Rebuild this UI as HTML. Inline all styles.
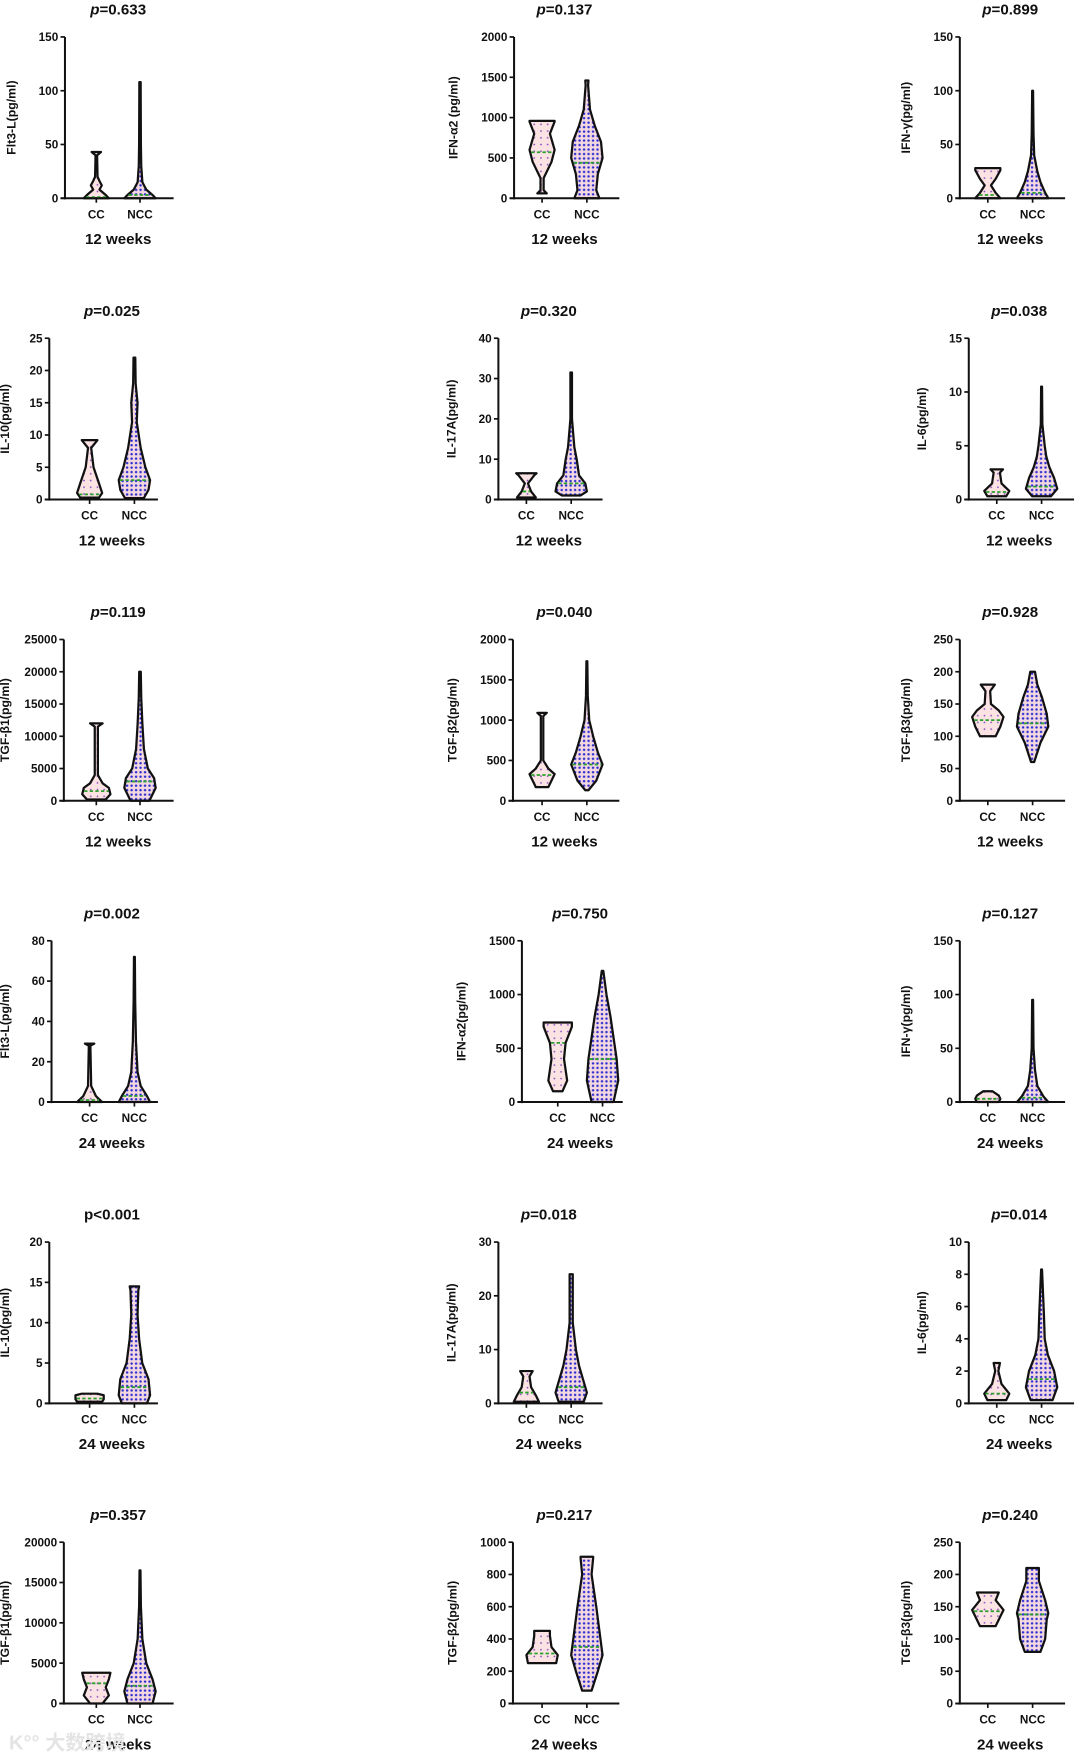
<!DOCTYPE html>
<html><head><meta charset="utf-8">
<style>
html,body{margin:0;padding:0;background:#fff;}
svg{display:block;}
text{font-family:"Liberation Sans","Noto Sans CJK SC",sans-serif;font-weight:bold;fill:#111;}
</style></head>
<body>
<svg id="chart" width="1080" height="1756" viewBox="0 0 964.3 1567.9" xmlns="http://www.w3.org/2000/svg">
<defs>
<pattern id="dotsN" width="4" height="4" patternUnits="userSpaceOnUse"><rect width="4" height="4" fill="#f3d8e0"/><circle cx="1.5" cy="1.5" r="1.1" fill="#2a2ad0"/></pattern>
<pattern id="dotsC" width="6" height="6" patternUnits="userSpaceOnUse"><rect width="6" height="6" fill="#fbe3e3"/><circle cx="3" cy="3" r="0.8" fill="#8a4fc0"/></pattern>
</defs>
</svg>
<script>
const pValues=["p=0.633","p=0.137","p=0.899","p=0.025","p=0.320","p=0.038","p=0.119","p=0.040","p=0.928","p=0.002","p=0.750","p=0.127","p<0.001","p=0.018","p=0.014","p=0.357","p=0.217","p=0.240"];
const yLabels=["Flt3-L(pg/ml)","IFN-α2 (pg/ml)","IFN-γ(pg/ml)","IL-10(pg/ml)","IL-17A(pg/ml)","IL-6(pg/ml)","TGF-β1(pg/ml)","TGF-β2(pg/ml)","TGF-β3(pg/ml)","Flt3-L(pg/ml)","IFN-α2(pg/ml)","IFN-γ(pg/ml)","IL-10(pg/ml)","IL-17A(pg/ml)","IL-6(pg/ml)","TGF-β1(pg/ml)","TGF-β2(pg/ml)","TGF-β3(pg/ml)"];
const weekLabels=["12 weeks","12 weeks","12 weeks","12 weeks","12 weeks","12 weeks","12 weeks","12 weeks","12 weeks","24 weeks","24 weeks","24 weeks","24 weeks","24 weeks","24 weeks","24 weeks","24 weeks","24 weeks"];
const yMaxes=[150,2000,150,25,40,15,25000,2000,250,80,1500,150,20,30,10,20000,1000,250];
const yTickSteps=[50,500,50,5,10,5,5000,500,50,20,500,50,5,10,2,5000,200,50];
const categories=["CC","NCC"];
const ccProfiles=[
[[0,0.8],[3,0.6],[8,0.2],[12,0.35],[16,0.2],[20,0.08],[40,0.05],[43,0.3]],
[[60,0.3],[100,0.1],[250,0.1],[450,0.6],[600,0.8],[800,0.5],[950,0.8],[960,0.8]],
[[0,0.8],[5,0.5],[12,0.2],[18,0.5],[26,0.8],[28,0.8]],
[[0.3,0.6],[1,0.8],[2.5,0.6],[5,0.25],[8,0.1],[9.2,0.5]],
[[0.5,0.6],[2,0.3],[4,0.1],[6,0.5],[6.5,0.65]],
[[0.3,0.6],[0.8,0.8],[1.5,0.3],[2.5,0.2],[2.8,0.4]],
[[200,0.6],[1000,0.9],[2000,0.8],[2700,0.4],[4000,0.1],[11500,0.1],[12000,0.4]],
[[170,0.4],[250,0.6],[330,0.8],[400,0.4],[500,0.08],[1050,0.08],[1090,0.3]],
[[100,0.5],[115,0.8],[130,1],[140,0.7],[150,0.2],[170,0.15],[180,0.45]],
[[0,0.8],[3,0.4],[8,0.1],[28,0.05],[29,0.3]],
[[100,0.3],[200,0.6],[400,0.4],[550,0.5],[700,0.9],[740,0.9]],
[[0,0.7],[3,0.8],[6,0.7],[8,0.5],[10,0.3]],
[[0.2,0.8],[0.5,0.9],[1,0.9],[1.2,0.5]],
[[0.3,0.8],[1.5,0.6],[3,0.3],[5,0.2],[6,0.4]],
[[0.2,0.6],[0.6,0.8],[1.2,0.3],[2,0.1],[2.5,0.2]],
[[0,0.4],[1000,0.8],[2000,0.6],[3000,0.8],[3800,0.9]],
[[250,0.9],[300,1],[350,0.6],[420,0.5],[450,0.5]],
[[120,0.5],[135,0.8],[145,1],[160,0.5],[172,0.7]]
];
const nccProfiles=[
[[0,1],[3,0.8],[8,0.4],[15,0.15],[30,0.08],[50,0.06],[100,0.04],[108,0.04]],
[[0,0.8],[100,0.6],[300,0.7],[500,1],[700,0.9],[900,0.5],[1100,0.2],[1400,0.08],[1460,0.1]],
[[0,1],[5,0.8],[15,0.5],[25,0.3],[40,0.1],[60,0.06],[100,0.03]],
[[0.2,0.6],[1.5,0.9],[3,1],[5,0.7],[8,0.4],[12,0.15],[15,0.2],[18,0.08],[22,0.06]],
[[1,0.6],[2,1],[4,0.9],[6,0.5],[10,0.35],[13,0.2],[20,0.05],[31.5,0.05]],
[[0.3,0.6],[1,1],[2,0.8],[3,0.5],[4,0.3],[5,0.2],[7,0.05],[10.5,0.03]],
[[0,0.6],[2000,1],[3500,0.9],[5000,0.5],[8000,0.25],[12000,0.15],[16000,0.08],[20000,0.05]],
[[130,0.1],[250,0.6],[450,1],[600,0.7],[800,0.4],[1000,0.15],[1300,0.06],[1730,0.03]],
[[60,0.1],[90,0.5],[115,1],[135,0.9],[160,0.6],[180,0.3],[200,0.15]],
[[0,1],[3,0.8],[8,0.4],[15,0.2],[30,0.1],[50,0.05],[72,0.03]],
[[0,0.7],[200,1],[400,0.9],[600,0.7],[800,0.5],[1000,0.25],[1220,0.05]],
[[0,1],[5,0.7],[15,0.3],[30,0.15],[50,0.06],[95,0.03]],
[[0,0.8],[1,1],[3,0.9],[5,0.5],[8,0.3],[11,0.2],[14,0.25],[14.5,0.3]],
[[0.3,0.8],[2,1],[4,0.8],[7,0.5],[10,0.3],[15,0.1],[22,0.1],[24,0.1]],
[[0.2,0.7],[1,1],[2,0.8],[3,0.4],[4,0.2],[5.5,0.15],[8.3,0.03]],
[[0,0.8],[1500,1],[3000,0.8],[5000,0.4],[8000,0.15],[12000,0.06],[16500,0.03]],
[[80,0.3],[200,0.7],[300,1],[450,0.8],[600,0.6],[800,0.3],[900,0.4],[910,0.4]],
[[80,0.5],[100,0.8],[130,0.9],[140,1],[160,0.8],[190,0.4],[210,0.4]]
];
const ccMedians=[1,570,3,0.8,2,0.7,1500,320,125,1,550,3,0.6,2,0.6,2500,310,143];
const nccMedians=[3,440,5,3,4,1.2,3000,450,120,3,400,4,2,3,1.5,2200,350,138];

// layout (not data)
const rowTops=[33,302,571,840,1109,1377];
const layout=[
[58,86,125,155],[459,484,524,553],[857,882,922,951],
[44,80,120,141],[445,470,510,538],[865,890,930,959],
[57,86,125,155],[458,484,524,553],[857,882,922,951],
[46,80,120,141],[466,498,538,556],[857,882,922,951],
[44,80,120,141],[445,470,510,538],[865,890,930,959],
[57,86,125,155],[458,484,524,553],[857,882,922,951]
];
const NS="http://www.w3.org/2000/svg";
const svg=document.getElementById('chart');
function mk(tag,attrs,parent){const e=document.createElementNS(NS,tag);for(const k in attrs)e.setAttribute(k,attrs[k]);(parent||svg).appendChild(e);return e;}
const H=144, HALF=14;

for(let i=0;i<18;i++){
  const [ax,ccx,nccx,ex]=layout[i];
  const top=rowTops[Math.floor(i/3)], zero=top+H;
  const yScale=v=>zero-(v/yMaxes[i])*H;
  const g=mk('g',{});
  
  
  const cx=(ccx+nccx)/2;
  const t=mk('text',{x:cx,y:top-20,'text-anchor':'middle','font-size':13.5},g);
  
  
  const pv=pValues[i];
  if(pv.startsWith('p<')){t.textContent=pv;}
  else{const s=mk('tspan',{'font-style':'italic'},t);s.textContent='p';const s2=mk('tspan',{},t);s2.textContent=pv.slice(1);}
  [ccProfiles[i],nccProfiles[i]].forEach((prof,k)=>{
    const x0=k===0?ccx:nccx;
    let right=prof.map(p=>[x0+p[1]*HALF,yScale(p[0])]);
    let left=prof.slice().reverse().map(p=>[x0-p[1]*HALF,yScale(p[0])]);
    const pts=right.concat(left);
    const d='M'+pts.map(p=>p[0].toFixed(1)+','+p[1].toFixed(1)).join('L')+'Z';
    const v=mk('path',{d:d,fill:k===0?'url(#dotsC)':'url(#dotsN)',stroke:'#111','stroke-width':2,'stroke-linejoin':'round'},g);
    
    
    const med=k===0?ccMedians[i]:nccMedians[i];
    let w=0.5;
    for(let j=0;j<prof.length-1;j++){if(med>=prof[j][0]&&med<=prof[j+1][0]){const f=(med-prof[j][0])/((prof[j+1][0]-prof[j][0])||1);w=prof[j][1]+f*(prof[j+1][1]-prof[j][1]);}}
    const ml=mk('line',{x1:x0-w*HALF+1,x2:x0+w*HALF-1,y1:yScale(med),y2:yScale(med),stroke:'#2ca02c','stroke-width':1.6,'stroke-dasharray':'3,2'},g);
    
    
  });
  const ya=mk('line',{x1:ax,x2:ax,y1:top,y2:zero+1,stroke:'#111','stroke-width':1.8},g);
  
  
  const xa=mk('line',{x1:ax-4,x2:ex,y1:zero,y2:zero,stroke:'#111','stroke-width':1.8},g);
  
  
  let maxLen=0;
  for(let v=0;v<=yMaxes[i]+1e-9;v+=yTickSteps[i]){
    const y=yScale(v);
    const tk=mk('line',{x1:ax-4,x2:ax,y1:y,y2:y,stroke:'#111','stroke-width':1.5},g);
    
    
    const tl=mk('text',{x:ax-6,y:y+3.7,'text-anchor':'end','font-size':10.5},g);
    
    
    tl.textContent=String(v);
    maxLen=Math.max(maxLen,String(v).length);
  }
  [ccx,nccx].forEach((x,k)=>{
    const tk=mk('line',{x1:x,x2:x,y1:zero,y2:zero+4,stroke:'#111','stroke-width':1.5},g);
    
    
    const cl=mk('text',{x:x,y:zero+18,'text-anchor':'middle','font-size':10.5},g);
    
    
    cl.textContent=categories[k];
  });
  const wl=mk('text',{x:cx,y:zero+41,'text-anchor':'middle','font-size':13.5},g);
  
  
  wl.textContent=weekLabels[i];
  const lx=Math.max(8,ax-maxLen*6.1-26);
  const yl=mk('text',{x:0,y:0,'text-anchor':'middle','font-size':11,transform:'translate('+lx+','+(top+H/2)+') rotate(-90)'},g);
  
  
  yl.textContent=yLabels[i];
}
const wm=mk('text',{x:8,y:1562,'font-size':18,style:'fill:#e4e4e4'});


wm.textContent='K°° 大数跨境';
</script>
</body></html>
